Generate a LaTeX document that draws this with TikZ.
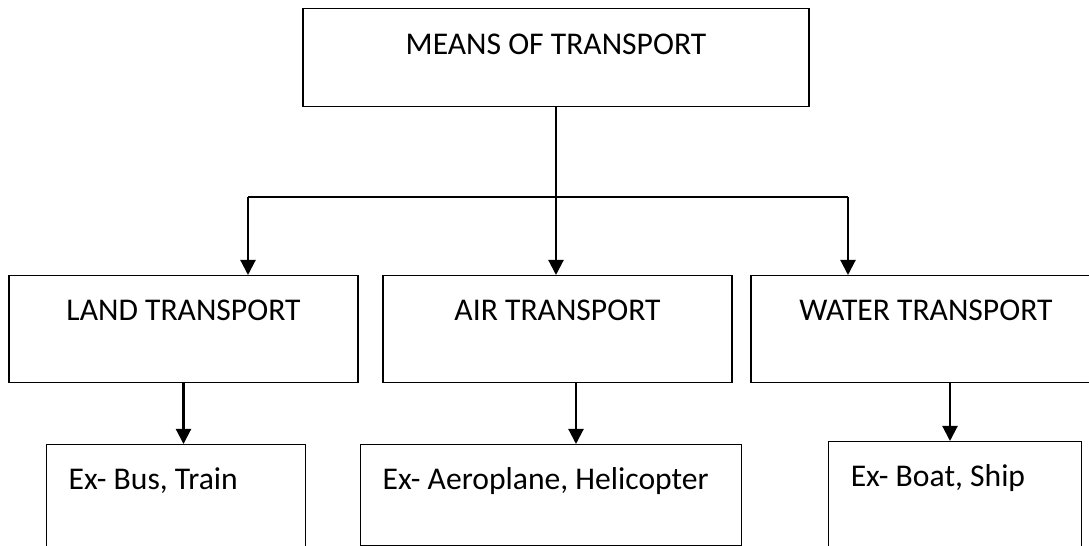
\documentclass[tikz,border=0pt]{standalone}
\usepackage{fontspec}
\setmainfont{Carlito}
\usepackage{xcolor}
\usepackage{tikz}
\usetikzlibrary{arrows.meta,positioning,calc}

\begin{document}
\begin{tikzpicture}[
    box/.style={
        % The shape:
        rectangle,
        draw=black,
        line width=0.85pt,
        inner ysep=0pt,
        % The fonts
        font=\fontsize{18}{22}\selectfont\frenchspacing},
    head/.style={box,text height=0.9cm,text depth=1.24cm,anchor=north},
    example/.style={box,align=flush left,inner xsep=0.44cm,text height=0.9cm,anchor=north west},
    link/.style={line width=1.2pt},
    arrow/.style={link,-{Triangle[length=0.3cm,width=0.3cm]}}]
  \clip (0,0) rectangle (21.78,-10.92);
  \fill[white] (0,0) rectangle (21.78,-10.92);
  % top box
  \node (means) [box,anchor=north,minimum width=10.12cm,text height=0.92cm,text depth=1.04cm]
      at (11.12,-0.16) {MEANS OF TRANSPORT};
  % the three kinds
  \node (land) [head,minimum width=6.98cm] at (3.67,-5.5) {LAND TRANSPORT};
  \node (air) [head,minimum width=6.98cm] at (11.15,-5.5) {AIR TRANSPORT};
  \node (water) [head,minimum width=7.0cm] at (18.52,-5.5) {WATER TRANSPORT};
  % examples
  \node (ex land) [example,text width=4.30cm,text depth=2.0cm] at (0.92,-8.88) {Ex- Bus, Train};
  \node (ex air) [example,text width=6.74cm,text depth=1.12cm] at (7.2,-8.88) {Ex- Aeroplane, Helicopter};
  \node (ex water) [example,text width=4.18cm,text depth=2.0cm] at (16.56,-8.82) {Ex- Boat, Ship};
  % connectors
  \coordinate (split) at (means.south |- 0,-3.94);
  \coordinate (split left) at (4.96,-3.94);
  \coordinate (split right) at (16.96,-3.94);
  \draw[link] (means.south) -- (split);
  \draw[link] (split left) -- (split right);
  \draw[arrow] (split left) -- (split left |- land.north);
  \draw[arrow] (split) -- (split |- air.north);
  \draw[arrow] (split right) -- (split right |- water.north);
  \draw[arrow] (land.south) -- (land.south |- ex land.north);
  \draw[arrow] ([xshift=0.37cm]air.south) -- ([xshift=0.37cm]air.south |- ex air.north);
  \draw[arrow] ([xshift=0.48cm]water.south) -- ([xshift=0.48cm]water.south |- ex water.north);
\end{tikzpicture}
\end{document}
